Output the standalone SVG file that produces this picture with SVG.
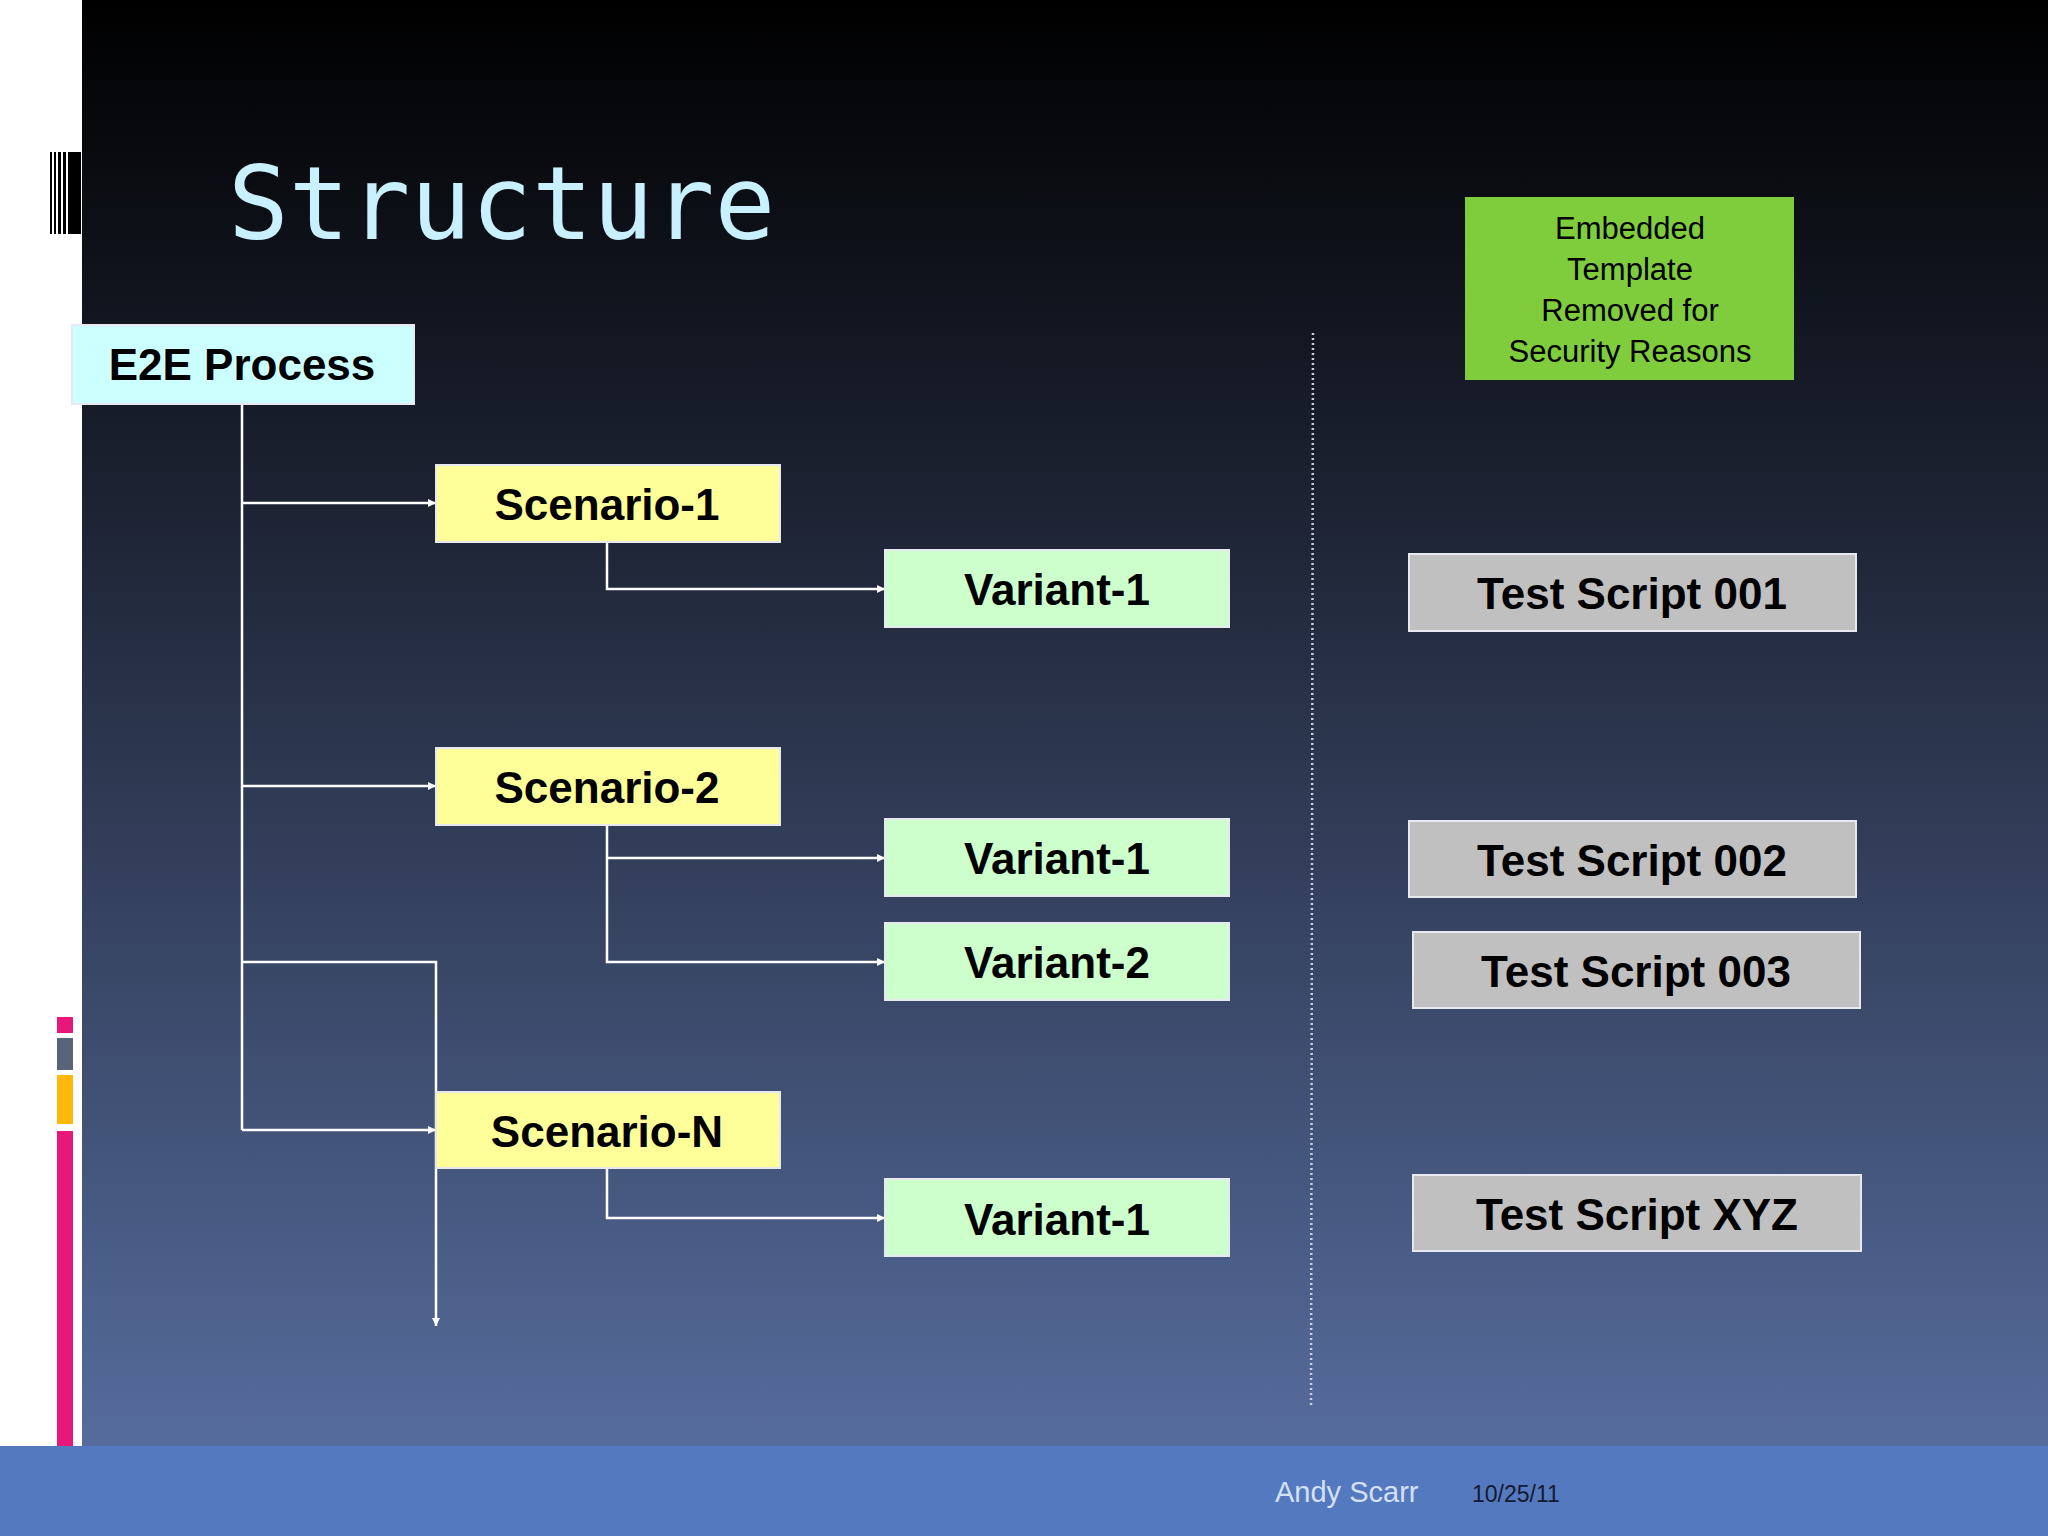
<svg xmlns="http://www.w3.org/2000/svg" width="2048" height="1536" viewBox="0 0 2048 1536">
<defs>
<linearGradient id="bg" x1="0" y1="0" x2="0" y2="1">
<stop offset="0" stop-color="#000000"/>
<stop offset="0.35" stop-color="#1d2333"/>
<stop offset="1" stop-color="#566c9c"/>
</linearGradient>
<marker id="ah" viewBox="0 0 10 10" refX="10" refY="5" markerWidth="5" markerHeight="5" orient="auto" markerUnits="userSpaceOnUse" style="overflow:visible">
<path d="M0,0 L10,5 L0,10 z" fill="#fff" transform="scale(1.6) translate(-3.7,-1.9)"/>
</marker>
<style>
.box{stroke:#e8e8f0;stroke-width:2}
.lbl{font-family:"Liberation Sans",Arial,sans-serif;font-weight:bold;font-size:44px;fill:#000;text-anchor:middle}
.con{stroke:#fff;stroke-width:2.5;fill:none}
.gt{font-family:"Liberation Sans",Arial,sans-serif;font-size:31px;fill:#000;text-anchor:middle}
</style>
</defs>
<rect width="2048" height="1536" fill="#fff"/>
<rect x="82" y="0" width="1966" height="1446" fill="url(#bg)"/>
<rect x="0" y="1446" width="2048" height="90" fill="#5579be"/>
<g id="bars">
<rect x="57" y="1017" width="16" height="16" fill="#e8177a"/>
<rect x="57" y="1038" width="16" height="32" fill="#5a6478"/>
<rect x="57" y="1075" width="16" height="49" fill="#ffb80a"/>
<rect x="57" y="1131" width="16" height="315" fill="#e8177a"/>
</g>
<g id="barcode" fill="#000">
<rect x="48" y="151" width="33" height="84" fill="#fff"/>
<rect x="50" y="152" width="2" height="82"/><rect x="54" y="152" width="2" height="82"/><rect x="58" y="152" width="3" height="82"/><rect x="63" y="152" width="3" height="82"/><rect x="68" y="152" width="13" height="82"/>
</g>
<text x="228" y="239" font-family="'DejaVu Sans Mono',monospace" font-size="101" fill="#c8f0ff">Structure</text>
<line x1="1313" y1="333" x2="1311" y2="1407" stroke="#c8d0e0" stroke-width="2.5" stroke-dasharray="2,3"/>
<g id="connectors" class="con">
<path d="M242,404 V1130"/>
<path d="M242,503 H436" marker-end="url(#ah)"/>
<path d="M242,786 H436" marker-end="url(#ah)"/>
<path d="M242,1130 H436" marker-end="url(#ah)"/>
<path d="M242,962 H436 V1326" marker-end="url(#ah)"/>
<path d="M607,542 V589 H885" marker-end="url(#ah)"/>
<path d="M607,825 V962 H885" marker-end="url(#ah)"/>
<path d="M607,858 H885" marker-end="url(#ah)"/>
<path d="M607,1168 V1218 H885" marker-end="url(#ah)"/>
</g>
<g id="e2e"><rect class="box" x="72" y="325" width="342" height="79" fill="#ccffff"/><text class="lbl" x="242" y="380">E2E Process</text></g>
<g id="sc1"><rect class="box" x="436" y="465" width="344" height="77" fill="#ffff99"/><text class="lbl" x="607" y="520">Scenario-1</text></g>
<g id="sc2"><rect class="box" x="436" y="748" width="344" height="77" fill="#ffff99"/><text class="lbl" x="607" y="803">Scenario-2</text></g>
<g id="scN"><rect class="box" x="436" y="1092" width="344" height="76" fill="#ffff99"/><text class="lbl" x="607" y="1147">Scenario-N</text></g>
<g id="v11"><rect class="box" x="885" y="550" width="344" height="77" fill="#ccffcc"/><text class="lbl" x="1057" y="605">Variant-1</text></g>
<g id="v21"><rect class="box" x="885" y="819" width="344" height="77" fill="#ccffcc"/><text class="lbl" x="1057" y="874">Variant-1</text></g>
<g id="v22"><rect class="box" x="885" y="923" width="344" height="77" fill="#ccffcc"/><text class="lbl" x="1057" y="978">Variant-2</text></g>
<g id="vN1"><rect class="box" x="885" y="1179" width="344" height="77" fill="#ccffcc"/><text class="lbl" x="1057" y="1235">Variant-1</text></g>
<g id="ts001"><rect class="box" x="1409" y="554" width="447" height="77" fill="#c0c0c0"/><text class="lbl" x="1632" y="609">Test Script 001</text></g>
<g id="ts002"><rect class="box" x="1409" y="821" width="447" height="76" fill="#c0c0c0"/><text class="lbl" x="1632" y="876">Test Script 002</text></g>
<g id="ts003"><rect class="box" x="1413" y="932" width="447" height="76" fill="#c0c0c0"/><text class="lbl" x="1636" y="987">Test Script 003</text></g>
<g id="tsxyz"><rect class="box" x="1413" y="1175" width="448" height="76" fill="#c0c0c0"/><text class="lbl" x="1637" y="1230">Test Script XYZ</text></g>
<g id="embedded"><rect x="1465" y="197" width="329" height="183" fill="#7fcc3d"/>
<text class="gt" x="1630" y="239">Embedded</text><text class="gt" x="1630" y="280">Template</text><text class="gt" x="1630" y="321">Removed for</text><text class="gt" x="1630" y="362">Security Reasons</text></g>
<text x="1275" y="1502" font-family="'Liberation Sans',Arial,sans-serif" font-size="29" fill="#d4e0f4">Andy Scarr</text>
<text x="1472" y="1502" font-family="'Liberation Sans',Arial,sans-serif" font-size="23" fill="#141a33">10/25/11</text>
</svg>
